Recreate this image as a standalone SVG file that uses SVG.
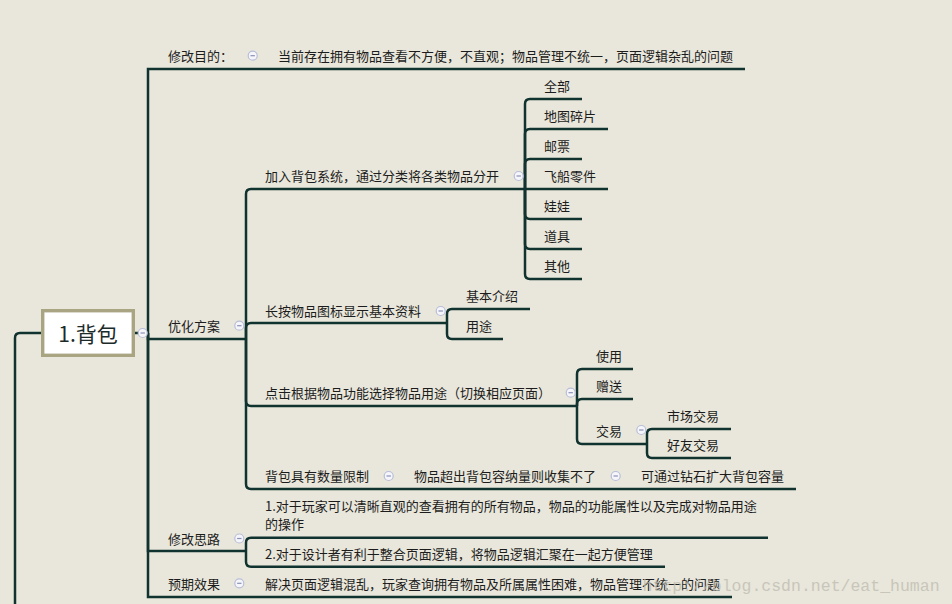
<svg xmlns="http://www.w3.org/2000/svg" width="952" height="604" viewBox="0 0 952 604">
<defs>
<style>
.ln{fill:none;stroke:#10332F;stroke-width:2.5;stroke-linejoin:miter;stroke-linecap:butt}
.t{font-family:"Noto Sans CJK SC","Noto Sans",sans-serif;font-size:13px;fill:#1C1C1C}
.wm{font-family:"Liberation Mono",monospace;font-size:16.5px;fill:#BDBBB0;opacity:0.75}
</style>
<g id="icon"><circle cx="0" cy="0" r="4.5" fill="#F6F6FA" stroke="#B7BED8" stroke-width="1.2"/><line x1="-2.2" y1="0" x2="2.2" y2="0" stroke="#8A91B6" stroke-width="1.2"/></g>
</defs>
<rect x="0" y="0" width="952" height="604" fill="#E9E7DB"/>

<g id="connectors" class="ln">
<path d="M42 333 H20 Q15 333 15 338 V604"/>
<path d="M135 333 H139"/>
<path d="M148 333 V69 H745"/>
<path d="M148 333 V339 H246"/>
<path d="M148 333 V551 H246"/>
<path d="M148 333 V597 H732"/>
<path d="M246 339 V194 Q246 189 251 189 H525"/>
<path d="M246 339 V328 Q246 323 251 323 H447"/>
<path d="M246 339 V401 Q246 406 251 406 H577"/>
<path d="M246 339 V484 Q246 489 251 489 H796"/>
<path d="M525 189 V104 Q525 99 530 99 H582"/>
<path d="M525 189 V134 Q525 129 530 129 H608"/>
<path d="M525 189 V164 Q525 159 530 159 H582"/>
<path d="M525 189 H608"/>
<path d="M525 189 V214 Q525 219 530 219 H582"/>
<path d="M525 189 V244 Q525 249 530 249 H582"/>
<path d="M525 189 V274 Q525 279 530 279 H582"/>
<path d="M447 323 V314 Q447 309 452 309 H530"/>
<path d="M447 323 V334 Q447 339 452 339 H503"/>
<path d="M577 406 V374 Q577 369 582 369 H633"/>
<path d="M577 406 V404 Q577 399 582 399 H633"/>
<path d="M577 406 V439 Q577 444 582 444 H647"/>
<path d="M647 444 V434 Q647 429 652 429 H731"/>
<path d="M647 444 V453 Q647 458 652 458 H731"/>
<path d="M246 551 V542.7 Q246 537.7 251 537.7 H768"/>
<path d="M246 551 V561.7 Q246 566.7 251 566.7 H665"/>
</g>

<g id="root">
<rect x="42.7" y="310.7" width="90.6" height="44.6" fill="#FFFFFF" stroke="#A9A481" stroke-width="3.4"/>
<text x="88" y="342" text-anchor="middle" font-family="Noto Sans CJK SC,Noto Sans,sans-serif" font-size="21" fill="#1C2A2A">1.背包</text>
<use href="#icon" x="142.7" y="333"/>
</g>

<g id="n-mubiao">
<text class="t" x="168" y="61">修改目的：</text>
<use href="#icon" x="252.7" y="55.7"/>
</g>
<g id="n-mubiao-c"><text class="t" x="278" y="61">当前存在拥有物品查看不方便，不直观；物品管理不统一，页面逻辑杂乱的问题</text></g>

<g id="n-fangan">
<text class="t" x="168" y="331">优化方案</text>
<use href="#icon" x="239.3" y="325.7"/>
</g>

<g id="n-jiaru">
<text class="t" x="265" y="181">加入背包系统，通过分类将各类物品分开</text>
<use href="#icon" x="518.7" y="176"/>
</g>
<g id="n-quanbu"><text class="t" x="544" y="90.5">全部</text></g>
<g id="n-ditu"><text class="t" x="544" y="120.5">地图碎片</text></g>
<g id="n-youpiao"><text class="t" x="544" y="150.5">邮票</text></g>
<g id="n-feichuan"><text class="t" x="544" y="180.5">飞船零件</text></g>
<g id="n-wawa"><text class="t" x="544" y="210.5">娃娃</text></g>
<g id="n-daoju"><text class="t" x="544" y="240.5">道具</text></g>
<g id="n-qita"><text class="t" x="544" y="270.5">其他</text></g>

<g id="n-changan">
<text class="t" x="265" y="316">长按物品图标显示基本资料</text>
<use href="#icon" x="440.7" y="311"/>
</g>
<g id="n-jieshao"><text class="t" x="466" y="300.5">基本介绍</text></g>
<g id="n-yongtu"><text class="t" x="466" y="330.5">用途</text></g>

<g id="n-dianji">
<text class="t" x="265" y="397.5">点击根据物品功能选择物品用途（切换相应页面）</text>
<use href="#icon" x="570.7" y="392.7"/>
</g>
<g id="n-shiyong"><text class="t" x="596" y="360.5">使用</text></g>
<g id="n-zengsong"><text class="t" x="596" y="390.5">赠送</text></g>
<g id="n-jiaoyi">
<text class="t" x="596" y="435.5">交易</text>
<use href="#icon" x="641.3" y="430"/>
</g>
<g id="n-shichang"><text class="t" x="667" y="420.5">市场交易</text></g>
<g id="n-haoyou"><text class="t" x="667" y="449.5">好友交易</text></g>

<g id="n-shuliang">
<text class="t" x="265" y="480.5">背包具有数量限制</text>
<use href="#icon" x="388.7" y="476"/>
</g>
<g id="n-chaochu">
<text class="t" x="414" y="480.5">物品超出背包容纳量则收集不了</text>
<use href="#icon" x="615.7" y="476"/>
</g>
<g id="n-zuanshi"><text class="t" x="641" y="480.5">可通过钻石扩大背包容量</text></g>

<g id="n-silu">
<text class="t" x="168" y="544">修改思路</text>
<use href="#icon" x="239.3" y="538.5"/>
</g>
<g id="n-silu1">
<text class="t" x="265" y="510.5">1.对于玩家可以清晰直观的查看拥有的所有物品，物品的功能属性以及完成对物品用途</text>
<text class="t" x="265" y="529">的操作</text>
</g>
<g id="n-silu2"><text class="t" x="265" y="558.5">2.对于设计者有利于整合页面逻辑，将物品逻辑汇聚在一起方便管理</text></g>

<g id="n-xiaoguo">
<text class="t" x="168" y="589">预期效果</text>
<use href="#icon" x="239.3" y="583.3"/>
</g>
<g id="n-xiaoguo-c"><text class="t" x="265" y="589">解决页面逻辑混乱，玩家查询拥有物品及所属属性困难，物品管理不统一的问题</text></g>

<text class="wm" x="642.5" y="591">http://blog.csdn.net/eat_human</text>
</svg>
